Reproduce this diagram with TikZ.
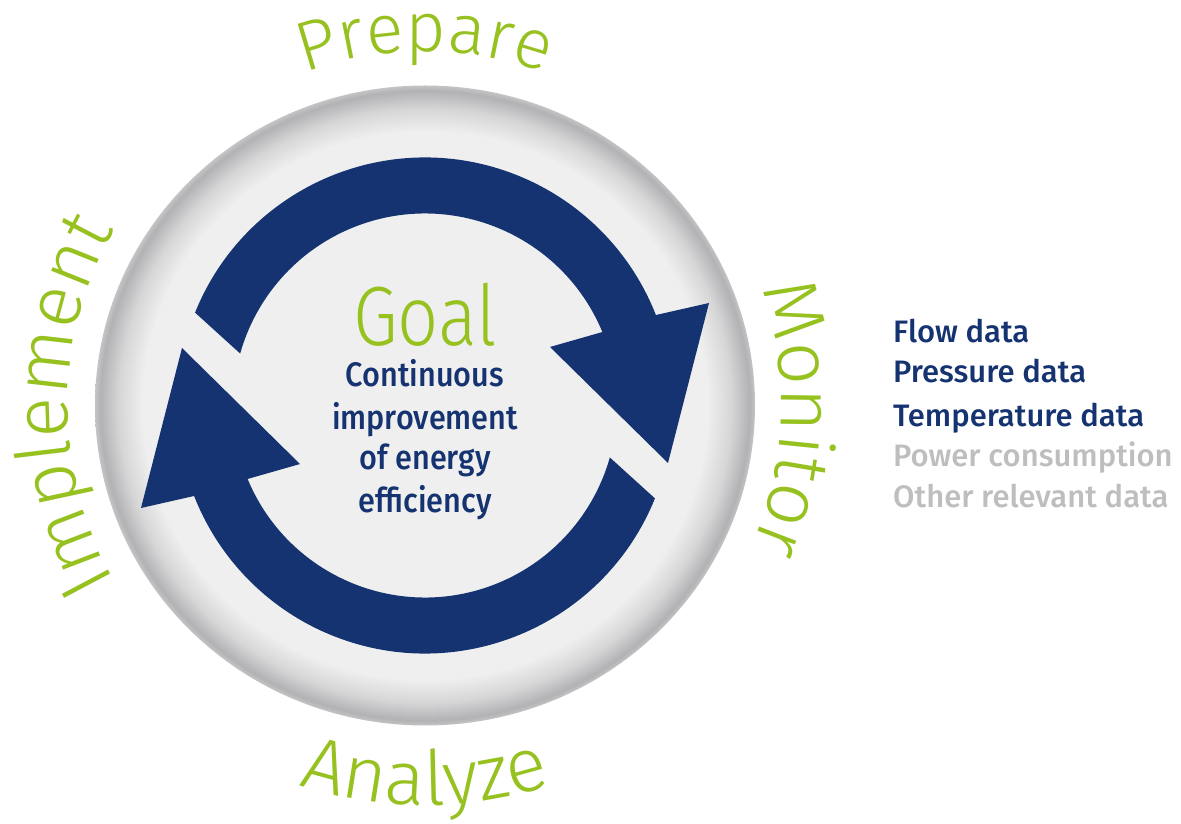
\documentclass[tikz,border=0pt]{standalone}
\usepackage{fontspec}
\setmainfont{Fira Sans}
\newfontfamily\lightfnt{Fira Sans Light}
\newfontfamily\medfnt{Fira Sans Medium}
\usetikzlibrary{decorations.text}
\definecolor{navy}{RGB}{20,51,112}
\definecolor{lime}{RGB}{150,193,31}
\definecolor{greytext}{RGB}{190,190,190}
\definecolor{rimA}{RGB}{239,239,239}
\definecolor{rimB}{RGB}{214,214,215}
\definecolor{rimC}{RGB}{178,177,180}
\definecolor{rimD}{RGB}{196,196,198}
\pgfdeclareradialshading{rim}{\pgfpointorigin}{color(0bp)=(rimA); color(21.4bp)=(rimA); color(23.2bp)=(rimB); color(24.6bp)=(rimC); color(25bp)=(rimD); color(50bp)=(rimD)}
\newcommand\curvefnt{\lightfnt\fontsize{76}{80}\selectfont}
\newcommand\curvefntsmall{\lightfnt\fontsize{70}{74}\selectfont}
\tikzset{
  curved/.style={decorate, decoration={text along path, text={|\curvefnt|#1}, text align=center, text color=lime}},
  curvedsmall/.style={decorate, decoration={text along path, text={|\curvefntsmall|#1}, text align=center, text color=lime}},
  bodyline/.style={anchor=base, text=navy, font=\medfnt\fontsize{34}{40}\selectfont, inner sep=0pt},
  listdark/.style={anchor=base west, text=navy, font=\medfnt\fontsize{31}{36}\selectfont, inner sep=0pt},
  listgrey/.style={anchor=base west, text=greytext, font=\medfnt\fontsize{31}{36}\selectfont, inner sep=0pt},
}
\begin{document}
\begin{tikzpicture}[x=1pt,y=1pt]
\useasboundingbox (0,0) rectangle (1181,823);
\fill[white] (0,0) rectangle (1181,823);
\coordinate (C) at (425,417.5);
% disc
\shade[shading=rim] (C) ellipse [x radius=330, y radius=320];
% two arrows
\foreach \r in {0,180}{
  \fill[navy, shift={(C)}, rotate=\r]
    (158:248) arc[start angle=158, end angle=21.4, radius=248]
    -- (284,102.5) -- (243,-57.5) -- (125,58.5)
    -- (22.5:192) arc[start angle=22.5, end angle=164.3, radius=192] -- cycle;
}
% curved labels
\path[shift={(C)}, curvedsmall=Prepare] (136:354) arc[start angle=136, end angle=44, radius=354];
\path[shift={(C)}, curved=Monitor] (43:356) arc[start angle=43, end angle=-47, radius=356];
\path[shift={(C)}, curved=Implement] (225:357) arc[start angle=225, end angle=135, radius=357];
\path[shift={(C)}, curved=Analyze] (225:400) arc[start angle=225, end angle=315, radius=400];
% centre text
\node[anchor=base, text=lime, font=\lightfnt\fontsize{84}{90}\selectfont, inner sep=0pt] (goal) at (425,477) {\scalebox{0.86}[1]{Goal}};
\node[bodyline] (l1) at (425,436) {\scalebox{0.9}[1]{Continuous}};
\node[bodyline] (l2) at (425,393.5) {\scalebox{0.9}[1]{improvement}};
\node[bodyline] (l3) at (425,353) {\scalebox{0.9}[1]{of energy}};
\node[bodyline] (l4) at (425,310) {\scalebox{0.9}[1]{efficiency}};
% data list
\node[listdark] (d1) at (893,480.5) {Flow data};
\node[listdark] (d2) at (893,440) {Pressure data};
\node[listdark] (d3) at (893,396.5) {Temperature data};
\node[listgrey] (d4) at (893,356.5) {Power consumption};
\node[listgrey] (d5) at (893,315) {Other relevant data};
\end{tikzpicture}
\end{document}
